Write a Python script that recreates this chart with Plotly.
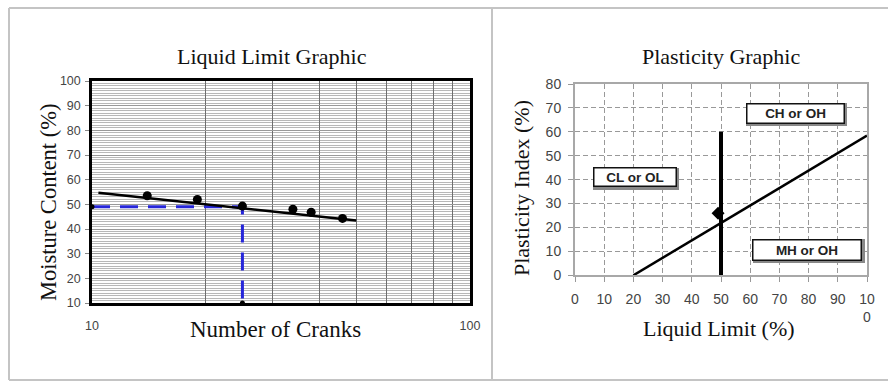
import plotly.graph_objects as go

# ---------------- data ----------------
# Liquid limit chart
cranks = [14, 19, 25, 34, 38, 46]
moisture = [53.5, 52.0, 49.3, 48.0, 46.8, 44.3]
trend_cranks = [10.4, 50]
trend_moisture = [54.7, 43.4]
ll_guide_x = [10, 25, 25]
ll_guide_y = [49, 49, 10]
axis_marks_x = [10, 25]
axis_marks_y = [49, 10]
ll_ticks = [10, 20, 30, 40, 50, 60, 70, 80, 90, 100]
ll_ticktext = ["10", "", "", "", "", "", "", "", "", "100"]
mc_ticks = [10, 20, 30, 40, 50, 60, 70, 80, 90, 100]

# Plasticity chart
a_line_x = [20, 100]
a_line_y = [0, 58.4]
ll50_x = [50, 50]
ll50_y = [0, 60]
sample_ll = [49]
sample_pi = [26]
pl_xticks = [0, 10, 20, 30, 40, 50, 60, 70, 80, 90, 100]
pl_xtext = ["0", "10", "20", "30", "40", "50", "60", "70", "80", "90", "10<br>0"]
pl_yticks = [0, 10, 20, 30, 40, 50, 60, 70, 80]
zones = [("CL or OL", 20.5, 41.0, 84, 20), ("CH or OH", 75.5, 67.7, 99, 21), ("MH or OH", 79.5, 10.6, 110, 22)]

W, H = 888, 381
def px(x):
    return x / W
def py(y):
    return 1 - y / H

serif = "Liberation Serif, Times New Roman, serif"
sans = "Liberation Sans, Arial, sans-serif"

fig = go.Figure()

# left chart traces
fig.add_trace(go.Scatter(x=ll_guide_x, y=ll_guide_y, mode="lines",
                         line=dict(color="#2626d9", width=3, dash="18px,10px"),
                         xaxis="x", yaxis="y", hoverinfo="skip"))
fig.add_trace(go.Scatter(x=trend_cranks, y=trend_moisture, mode="lines",
                         line=dict(color="black", width=2.5), xaxis="x", yaxis="y"))
fig.add_trace(go.Scatter(x=cranks, y=moisture, mode="markers",
                         marker=dict(color="black", size=9), xaxis="x", yaxis="y"))
fig.add_trace(go.Scatter(x=axis_marks_x, y=axis_marks_y, mode="markers",
                         marker=dict(color="black", size=5), xaxis="x", yaxis="y",
                         cliponaxis=False))

# right chart traces
fig.add_trace(go.Scatter(x=a_line_x, y=a_line_y, mode="lines",
                         line=dict(color="black", width=2.5), xaxis="x2", yaxis="y2"))
fig.add_trace(go.Scatter(x=ll50_x, y=ll50_y, mode="lines",
                         line=dict(color="black", width=4), xaxis="x2", yaxis="y2"))
fig.add_trace(go.Scatter(x=sample_ll, y=sample_pi, mode="markers",
                         marker=dict(color="black", size=10, symbol="diamond"),
                         xaxis="x2", yaxis="y2"))

fig.update_layout(
    width=W, height=H, margin=dict(l=0, r=0, t=0, b=0, autoexpand=False),
    paper_bgcolor="white", plot_bgcolor="white", showlegend=False,
    xaxis=dict(type="log", range=[1, 2], domain=[px(92), px(470)], anchor="y",
               automargin=False,
               tickvals=ll_ticks, ticktext=ll_ticktext, ticks="",
               showgrid=True, gridcolor="#6e6e6e", gridwidth=1,
               showline=True, mirror=True, linecolor="black", linewidth=2.5,
               tickfont=dict(family=sans, size=12.5, color="#444"),
               ticklabelstandoff=9, zeroline=False),
    yaxis=dict(range=[10, 100], domain=[py(303), py(81)], anchor="x",
               automargin=False,
               tickvals=mc_ticks, ticks="outside", ticklen=4, tickcolor="#888",
               showgrid=True, gridcolor="#999", gridwidth=1,
               minor=dict(dtick=1, showgrid=True, gridcolor="#b8b8b8", gridwidth=1, ticks=""),
               showline=True, mirror=True, linecolor="black", linewidth=2.5,
               tickfont=dict(family=sans, size=12.5, color="#444"),
               ticklabelstandoff=2, zeroline=False),
    xaxis2=dict(range=[0, 100], domain=[px(575), px(867)], anchor="y2",
                automargin=False,
                tickvals=pl_xticks, ticktext=pl_xtext, ticks="outside", ticklen=5,
                tickcolor="#999",
                showgrid=True, gridcolor="#999", griddash="5px,3px", gridwidth=1,
                showline=True, mirror=True, linecolor="#a8a8a8", linewidth=2,
                tickfont=dict(family=sans, size=14, color="#444"),
                ticklabelstandoff=5, zeroline=False),
    yaxis2=dict(range=[0, 80], domain=[py(275.3), py(84)], anchor="x2",
                automargin=False,
                tickvals=pl_yticks, ticks="outside", ticklen=5, tickcolor="#999",
                showgrid=True, gridcolor="#999", griddash="5px,3px", gridwidth=1,
                showline=True, mirror=True, linecolor="#a8a8a8", linewidth=2,
                tickfont=dict(family=sans, size=14, color="#444"),
                ticklabelstandoff=4, zeroline=False),
)

# outer frame and divider
frame = dict(color="#c4c4c4", width=2)
fig.add_shape(type="line", xref="paper", yref="paper", x0=px(9), x1=1, y0=py(8), y1=py(8), line=frame)
fig.add_shape(type="line", xref="paper", yref="paper", x0=px(9), x1=px(9), y0=py(8), y1=py(380), line=frame)
fig.add_shape(type="line", xref="paper", yref="paper", x0=px(9), x1=1, y0=py(380), y1=py(380), line=frame)
fig.add_shape(type="line", xref="paper", yref="paper", x0=px(492), x1=px(492), y0=py(8), y1=py(380), line=frame)

def text(t, x, y, angle=0, size=22):
    fig.add_annotation(text=t, x=px(x), y=py(y), xref="paper", yref="paper",
                       showarrow=False, textangle=angle, xanchor="center", yanchor="middle",
                       font=dict(family=serif, size=size, color="#111"))

text("Liquid Limit Graphic", 272, 56, size=22)
text("Number of Cranks", 275, 329, size=23)
text("Moisture Content (%)", 48, 203, angle=-90, size=22.5)
text("Plasticity Graphic", 721, 57, size=22)
text("Liquid Limit (%)", 719, 328)
text("Plasticity Index (%)", 522, 188, angle=-90)

for label, zx, zy, bw, bh in zones:
    # shadow
    fig.add_annotation(text="", x=zx, y=zy, xref="x2", yref="y2", showarrow=False,
                       width=bw, height=bh, bgcolor="#888", xshift=1.5, yshift=-1.5,
                       borderwidth=0)
    fig.add_annotation(text="<b>%s</b>" % label, x=zx, y=zy, xref="x2", yref="y2",
                       showarrow=False, width=bw - 3, height=bh - 3, bgcolor="white",
                       bordercolor="#111", borderwidth=1.5, borderpad=0,
                       font=dict(family=sans, size=13.5, color="#222"))

fig.write_html("out.html")
